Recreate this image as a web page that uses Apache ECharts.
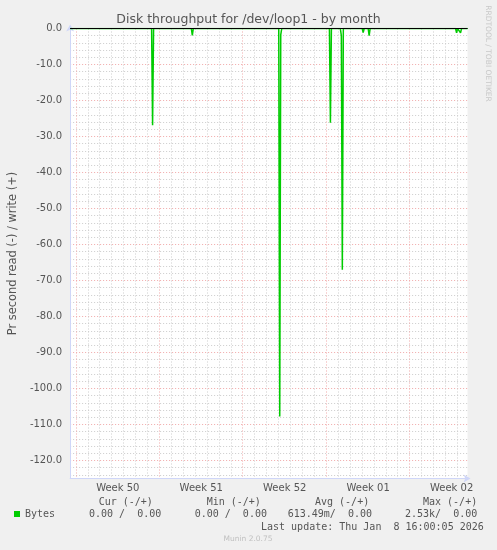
<!DOCTYPE html>
<html><head><meta charset="utf-8">
<script src="https://cdn.jsdelivr.net/npm/echarts@6/dist/echarts.min.js"></script>
<style>html,body{margin:0;padding:0;background:#f0f0f0}#c{width:497px;height:550px}</style>
</head><body><div id="c"></div>
<script>
// x values are hours relative to the first week gridline (start of Week 50)
const readHours = [-12,152,154,156,232,234,236,408,410,412,414,510,512,514,532,534,536,538,576,578,580,588,590,592,600,602,604,754,756,758,764,766,768,772,774,776,788];
const readValues = [0,0,-26.9,0,0,-1.9,0,0,-107.8,-1.8,0,0,-26.2,0,0,-2.0,-67.0,0,0,-1.1,0,0,-2.0,0,0,-0.4,0,0,-0.5,0,0,-1.2,0,0,-1.2,0,0];
const writeHours = [-12, 788];
const writeValues = [0, 0];
const weekLabels = ['Week 50','Week 51','Week 52','Week 01','Week 02'];
const statHeaders = ['Cur (-/+)','Min (-/+)','Avg (-/+)','Max (-/+)'];
const statValues = ['0.00 /  0.00','0.00 /  0.00','613.49m/  0.00','2.53k/  0.00'];
const seriesName = 'Bytes';
const titleText = 'Disk throughput for /dev/loop1 - by month';
const yAxisTitle = 'Pr second read (-) / write (+)';
const lastUpdate = 'Last update: Thu Jan  8 16:00:05 2026';
const sideText = 'RRDTOOL / TOBI OETIKER';
const footerText = 'Munin 2.0.75';

const X_MIN = -12, X_MAX = 788, HOURS_PER_DAY = 24, HOURS_PER_WEEK = 168;
const T = 'rgba(0,0,0,0)';
const RED = '#f0a8a8';
const GRAY = '#cccccc';
const AXIS = '#cfd6f8';
const TXT = '#555';
// horizontal split-line colour cycles (style only)
const yRed = [T, RED];
const yGray = []; for (let i = 0; i < 10; i++) yGray.push((i === 1 || i === 3 || i === 7 || i === 9) ? GRAY : T);
// vertical grid line positions: each day, red at week starts
const vGridHours = [];
for (let h = 0; h <= X_MAX; h += HOURS_PER_DAY) vGridHours.push(h);

const chart = echarts.init(document.getElementById('c'), null, {renderer: 'canvas'});
const mono = '"DejaVu Sans Mono", monospace';
const colX = [98.7, 206.7, 315, 423];
const valX = [89, 194.7, 287.7, 405];
const graphics = [];
statHeaders.forEach((h, i) => graphics.push({type:'text', style:{text:h, x:colX[i], y:502.5, font:'10px ' + mono, fill:TXT, verticalAlign:'middle'}}));
statValues.forEach((v, i) => graphics.push({type:'text', style:{text:v, x:valX[i], y:514.5, font:'10px ' + mono, fill:TXT, verticalAlign:'middle'}}));
graphics.push({type:'text', style:{text:lastUpdate, x:261, y:527, font:'10px ' + mono, fill:TXT, verticalAlign:'middle'}});
graphics.push({type:'text', style:{text:footerText, x:248, y:539, font:'7.5px "DejaVu Sans"', fill:'#c0c0c0', align:'center', verticalAlign:'middle'}});
graphics.push({type:'text', x:487.5, y:53.5, rotation:-Math.PI/2, style:{text:sideText, x:0, y:0, font:'7.5px "DejaVu Sans"', fill:'#c8c8c8', align:'center', verticalAlign:'middle'}});

chart.setOption({
  animation: false,
  backgroundColor: '#f0f0f0',
  color: ['#00cc00'],
  textStyle: {fontFamily: 'DejaVu Sans'},
  title: {text: titleText, left: 'center', top: 13, padding: 0,
    textStyle: {fontSize: 12.5, fontWeight: 'normal', color: TXT, fontFamily: 'DejaVu Sans'}},
  legend: {data: [seriesName], left: 14, top: 509, padding: 0, icon: 'rect', itemWidth: 6, itemHeight: 6, itemGap: 5,
    textStyle: {fontFamily: mono, fontSize: 10, color: TXT}},
  grid: {left: 67.5, top: 28.5, width: 400, height: 450, backgroundColor: '#ffffff', show: true, borderWidth: 0},
  xAxis: [
    {type: 'value', min: X_MIN, max: X_MAX, interval: 12, position: 'bottom',
     axisLine: {show: true, onZero: false, lineStyle: {color: AXIS}, symbol: ['none', 'arrow'], symbolSize: [6, 7], symbolOffset: [0, 3]},
     axisTick: {show: false},
     axisLabel: {showMaxLabel: false, color: TXT, fontSize: 10, margin: 5,
       formatter: v => ((v - 84) % 168 === 0 && v >= 84) ? weekLabels[(v - 84) / 168] : ''},
     splitLine: {show: false}}
  ],
  yAxis: [
    {type: 'value', min: -125, max: 0, interval: 5, position: 'left',
     name: yAxisTitle, nameLocation: 'middle', nameGap: 51,
     nameTextStyle: {fontSize: 11.4, color: TXT, fontFamily: 'DejaVu Sans'},
     axisLine: {show: true, onZero: false, lineStyle: {color: AXIS}, symbol: ['none', 'arrow'], symbolSize: [6, 7], symbolOffset: [0, 4]},
     axisTick: {show: false},
     axisLabel: {color: TXT, fontSize: 10, margin: 8, formatter: v => (v % 10 === 0) ? v.toFixed(1) : ''},
     splitLine: {show: true, lineStyle: {color: yRed, type: [1, 2], width: 1}}},
    {type: 'value', min: -125, max: 0, interval: 1, position: 'right',
     axisLine: {show: false}, axisTick: {show: false}, axisLabel: {show: false},
     splitLine: {show: true, lineStyle: {color: yGray, type: [1, 2], width: 1}}}
  ],
  series: [
    {name: 'grid', type: 'custom', xAxisIndex: 0, yAxisIndex: 0, z: 1, silent: true, clip: false,
     encode: {x: 0},
     data: vGridHours.map(h => [h]),
     renderItem: (params, api) => {
       const x = api.coord([api.value(0), 0])[0];
       const cs = params.coordSys;
       const px = Math.floor(x) + 0.5;
       const isWeek = api.value(0) % HOURS_PER_WEEK === 0;
       return {type: 'line', shape: {x1: px, y1: cs.y, x2: px, y2: cs.y + cs.height},
         style: {stroke: isWeek ? RED : GRAY, lineWidth: 1, lineDash: [1, 2], fill: null}};
     }},
    {name: seriesName, type: 'line', xAxisIndex: 0, yAxisIndex: 0, symbol: 'none', z: 3,
     data: readHours.map((h, i) => [h, readValues[i]]),
     lineStyle: {color: '#00cc00', width: 1.5}, itemStyle: {color: '#00cc00'},
     markLine: {silent: true, symbol: 'none', label: {show: false}, animation: false, z: 5,
       lineStyle: {color: '#000000', type: 'solid', width: 1}, data: [{yAxis: 0}]}},
    {name: seriesName, type: 'line', xAxisIndex: 0, yAxisIndex: 0, symbol: 'none', z: 2,
     data: writeHours.map((h, i) => [h, writeValues[i]]),
     lineStyle: {color: '#00cc00', width: 1}, itemStyle: {color: '#00cc00'}}
  ],
  graphic: graphics
});
</script></body></html>
